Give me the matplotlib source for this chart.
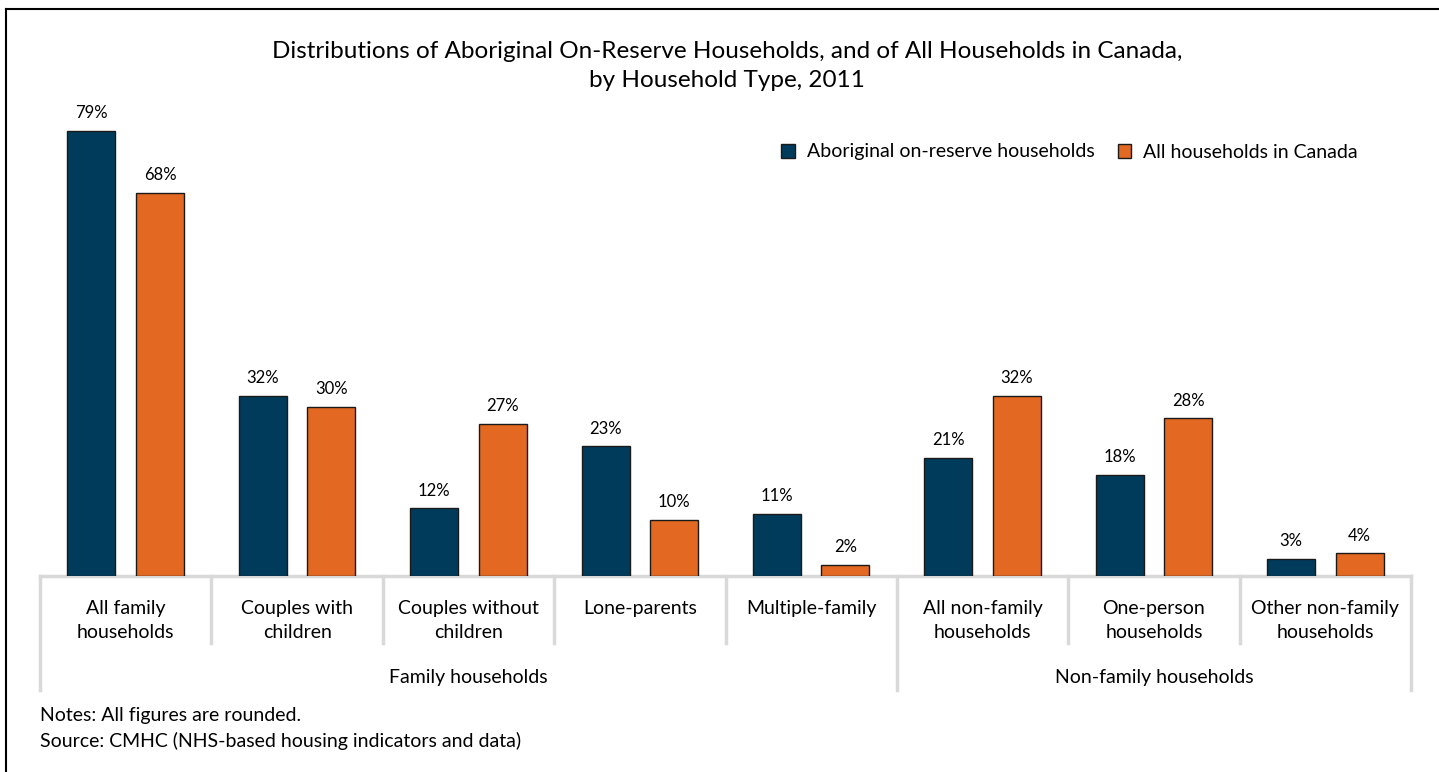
import matplotlib.pyplot as plt
from matplotlib.lines import Line2D
import numpy as np

plt.rcParams['font.family'] = ['Lato', 'DejaVu Sans']

categories = ["All family\nhouseholds", "Couples with\nchildren", "Couples without\nchildren",
              "Lone-parents", "Multiple-family", "All non-family\nhouseholds",
              "One-person\nhouseholds", "Other non-family\nhouseholds"]
aboriginal = [79, 32, 12, 23, 11, 21, 18, 3]
canada = [68, 30, 27, 10, 2, 32, 28, 4]
groups = ["Family households", "Non-family households"]
group_spans = [(0, 5), (5, 8)]
series_names = ["Aboriginal on-reserve households", "All households in Canada"]

BLUE = "#003b5c"
ORANGE = "#e36822"
GREY = "#d9d9d9"

W, H = 1439, 772
fig = plt.figure(figsize=(W / 100, H / 100), dpi=100)

# axes: x from px 40 to 1411, baseline at px 576, ylim 0..85
ax_top = 576 - 85 * (445 / 79)
ax = fig.add_axes([40 / W, (H - 576) / H, (1411 - 40) / W, (576 - ax_top) / H])
ax_h = 576 - ax_top

x = np.arange(len(categories)) + 0.5
bw = 0.28
off = 0.2
b1 = ax.bar(x - off, aboriginal, bw, color=BLUE, edgecolor="#1a1a1a", linewidth=1, label=series_names[0], zorder=3)
b2 = ax.bar(x + off, canada, bw, color=ORANGE, edgecolor="#1a1a1a", linewidth=1, label=series_names[1], zorder=3)

for bars, vals in ((b1, aboriginal), (b2, canada)):
    for r, v in zip(bars, vals):
        ax.annotate(f"{v}%", (r.get_x() + r.get_width() / 2, v), xytext=(0, 7),
                    textcoords="offset points", ha="center", va="bottom", fontsize=12)

ax.set_xlim(0, len(categories))
ax.set_ylim(0, 85)
ax.axis("off")

trans = ax.get_xaxis_transform()


def yfrac(px):
    return (576 - px) / ax_h


# baseline
ax.add_line(Line2D([0, len(categories)], [0, 0], transform=trans, color=GREY, lw=2.5, clip_on=False, zorder=2))
# separators
group_edges = {0, 5, 8}
for i in range(len(categories) + 1):
    bottom = yfrac(690) if i in group_edges else yfrac(643)
    ax.add_line(Line2D([i, i], [0, bottom], transform=trans, color=GREY, lw=2.5, clip_on=False))

for xi, lab in zip(x, categories):
    ax.text(xi, yfrac(600), lab, transform=trans, ha="center", va="top", fontsize=14,
            linespacing=1.5)

for g, (a, b) in zip(groups, group_spans):
    ax.text((a + b) / 2, yfrac(677), g, transform=trans, ha="center", va="center", fontsize=14)

fig.text(727 / W, 1 - 66 / H, "Distributions of Aboriginal On-Reserve Households, and of All Households in Canada,\nby Household Type, 2011",
         ha="center", va="center", fontsize=17.5, linespacing=1.5)

fig.legend(handles=[b1, b2], loc="center right", bbox_to_anchor=(1375 / W, 1 - 152 / H), ncol=2,
           frameon=False, fontsize=14, handlelength=0.7, handleheight=0.7, handletextpad=0.6,
           columnspacing=1.2)

fig.text(40 / W, 1 - 716 / H, "Notes: All figures are rounded.", ha="left", va="center", fontsize=14)
fig.text(40 / W, 1 - 741 / H, "Source: CMHC (NHS-based housing indicators and data)", ha="left", va="center", fontsize=14)

# frame: top and left lines only
fig.add_artist(Line2D([6 / W, 1], [1 - 9 / H, 1 - 9 / H], transform=fig.transFigure, color="black", lw=1.5))
fig.add_artist(Line2D([6 / W, 6 / W], [0, 1 - 9 / H], transform=fig.transFigure, color="black", lw=1.5))

fig.savefig("out.png", dpi=100)
